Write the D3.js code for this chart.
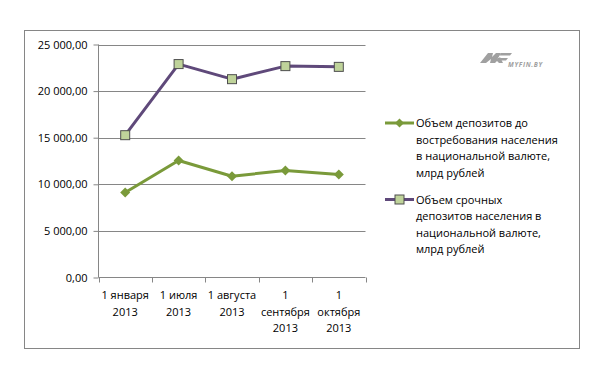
<!DOCTYPE html>
<html><head><meta charset="utf-8">
<script src="https://cdn.jsdelivr.net/npm/d3@7"></script>
<style>
body{margin:0;background:#fff;}
svg text{font-family:"Open Sans","Noto Sans",sans-serif;}
</style></head>
<body><svg id="c" width="594" height="366"></svg>
<script>
const categories = [["1 января","2013"],["1 июля","2013"],["1 августа","2013"],["1","сентября","2013"],["1","октября","2013"]];
const demandValues = [9120, 12560, 10870, 11480, 11050];
const termValues = [15270, 22900, 21280, 22680, 22600];
const yTicks = [0, 5000, 10000, 15000, 20000, 25000];
const seriesNames = [
  ["Объем депозитов до","востребования населения","в национальной валюте,","млрд рублей"],
  ["Объем срочных","депозитов населения в","национальной валюте,","млрд рублей"]
];

const svg = d3.select("#c");
const fontSize = 11;
svg.append("rect").attr("x",24.5).attr("y",30.5).attr("width",555).attr("height",318)
  .attr("fill","#fff").attr("stroke","#868686").attr("stroke-width",1);

const x = d3.scaleBand().domain(d3.range(categories.length)).range([98.5,365.5]);
const y = d3.scaleLinear().domain([0,25000]).range([277.5,44.5]);

const fmt = v => { const s = d3.format(",.2f")(v); return s.replace(/,/g," ").replace(".",","); };

// gridlines
svg.append("g").selectAll("line").data(yTicks.filter(d=>d>0)).join("line")
  .attr("x1",98.5).attr("x2",365.5).attr("y1",d=>Math.round(y(d))+0.5).attr("y2",d=>Math.round(y(d))+0.5)
  .attr("stroke","#868686").attr("stroke-width",1);

// y axis
const yAxis = d3.axisLeft(y).tickValues(yTicks).tickFormat(fmt).tickSize(5).tickPadding(6);
const gy = svg.append("g").attr("transform","translate(98.5,0)").call(yAxis);
gy.select(".domain").attr("stroke","#868686").attr("d","M0,"+y(25000)+"V"+y(0));
gy.selectAll(".tick line").attr("stroke","#868686");
gy.selectAll("text").attr("font-size",fontSize).attr("fill","#000").attr("font-family","Open Sans, sans-serif");

// x axis
const gx = svg.append("g").attr("transform","translate(0,277.5)");
gx.append("line").attr("x1",98.5).attr("x2",365.5).attr("stroke","#868686");
const bounds = d3.range(categories.length+1).map(i=> i<categories.length ? x(i) : x(categories.length-1)+x.bandwidth());
gx.selectAll("line.t").data(bounds).join("line").attr("class","t")
  .attr("x1",d=>Math.round(d)+0.5).attr("x2",d=>Math.round(d)+0.5).attr("y1",0).attr("y2",5).attr("stroke","#868686");
categories.forEach((lines,i)=>{
  const t = gx.append("text").attr("text-anchor","middle").attr("font-size",fontSize).attr("fill","#000");
  lines.forEach((l,j)=> t.append("tspan").attr("x",x(i)+x.bandwidth()/2).attr("y",21.5+j*16.5).text(l));
});

const cx = i => x(i)+x.bandwidth()/2;
const line = d3.line().x((d,i)=>cx(i)).y(d=>y(d));

const green = "#7A9A3A", purple = "#5F497A";
svg.append("path").datum(termValues).attr("d",line).attr("fill","none").attr("stroke",purple).attr("stroke-width",3).attr("stroke-linejoin","round");
svg.append("path").datum(demandValues).attr("d",line).attr("fill","none").attr("stroke",green).attr("stroke-width",3).attr("stroke-linejoin","round");

const diamond = (g,px,py,s)=> g.append("path").attr("d",`M${px},${py-s}L${px+s},${py}L${px},${py+s}L${px-s},${py}Z`).attr("fill",green);
const square = (g,px,py,s)=> g.append("rect").attr("x",px-s).attr("y",py-s).attr("width",2*s).attr("height",2*s)
  .attr("fill","#BFD39A").attr("stroke","#4F4F4F").attr("stroke-width",1);

demandValues.forEach((v,i)=>diamond(svg,cx(i),y(v),5));
termValues.forEach((v,i)=>square(svg,cx(i),y(v),4.5));

// legend
const leg = svg.append("g");
const legY = [123, 199.5];
[green,purple].forEach((col,k)=>{
  leg.append("line").attr("x1",385).attr("x2",414).attr("y1",legY[k]).attr("y2",legY[k]).attr("stroke",col).attr("stroke-width",3);
  if(k===0) diamond(leg,399.5,legY[k],4.5); else square(leg,399.5,legY[k],4.5);
  const t = leg.append("text").attr("font-size",fontSize).attr("fill","#000");
  seriesNames[k].forEach((l,j)=> t.append("tspan").attr("x",416).attr("y",legY[k]+4+j*16.6).text(l));
});

// watermark logo
const logo = svg.append("g").attr("fill","#a0a0a0");
logo.append("path").attr("d","M480,63 L488,53 L493,53 L492,57 L496,53 L501,53 L497,60 L500,57 L503,63 L499,63 L497,61 L495,63 L490,63 L491,59 L486,63 Z");
logo.append("path").attr("d","M501,53 L512,53 L510,55.5 L499.5,55.5 Z M498,58 L508,58 L506,60.5 L496.5,60.5 Z");
logo.append("text").attr("x",508).attr("y",67).attr("font-size",6.5).attr("font-weight","bold").attr("font-style","italic")
  .attr("letter-spacing",0.7).text("MYFIN.BY");
</script></body></html>
